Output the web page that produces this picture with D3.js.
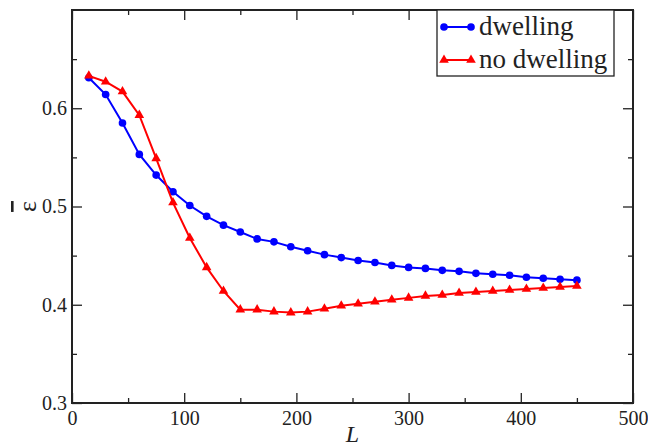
<!DOCTYPE html>
<html>
<head>
<meta charset="utf-8">
<script src="https://cdn.jsdelivr.net/npm/d3@7"></script>
<style>
  html, body { margin: 0; padding: 0; background: #fff; }
  svg { display: block; }
  svg text { font-family: 'Liberation Serif', 'Times New Roman', Tinos, 'DejaVu Serif', serif; }
  .tick text { fill: #222; }
</style>
</head>
<body>
<svg id="chart" width="648" height="448"></svg>
<script>
// System length L
const lengths = [15, 30, 45, 60, 75, 90, 105, 120, 135, 150, 165, 180, 195, 210, 225,
                 240, 255, 270, 285, 300, 315, 330, 345, 360, 375, 390, 405, 420, 435, 450];
// Mean efficiency with dwelling
const dwelling = [0.631, 0.614, 0.585, 0.553, 0.532, 0.515, 0.501, 0.490, 0.481, 0.474,
                  0.467, 0.464, 0.459, 0.455, 0.451, 0.448, 0.445, 0.443, 0.440, 0.438,
                  0.437, 0.435, 0.434, 0.432, 0.431, 0.430, 0.428, 0.427, 0.426, 0.425];
// Mean efficiency without dwelling
const noDwelling = [0.633, 0.627, 0.617, 0.593, 0.549, 0.504, 0.468, 0.438, 0.414, 0.395,
                    0.395, 0.393, 0.392, 0.393, 0.396, 0.399, 0.401, 0.403, 0.405, 0.407,
                    0.409, 0.410, 0.412, 0.413, 0.414, 0.415, 0.416, 0.417, 0.418, 0.419];
const xTicks = [0, 100, 200, 300, 400, 500];
const xMinor = [50, 150, 250, 350, 450];
const yTicks = [0.3, 0.4, 0.5, 0.6];
const yMinor = [0.35, 0.45, 0.55, 0.65];
const seriesNames = ["dwelling", "no dwelling"];
const seriesColors = ["#0000ff", "#ff0000"];

const svg = d3.select("#chart");
const plotLeft = 72, plotRight = 633, plotTop = 10, plotBottom = 403;

const x = d3.scaleLinear().domain([0, 500]).range([plotLeft, plotRight]);
const y = d3.scaleLinear().domain([0.3, 0.7]).range([plotBottom, plotTop]);

const axisColor = "#222";

function styleAxis(g) {
  g.select(".domain").remove();
  g.selectAll(".tick line").attr("stroke", axisColor).attr("stroke-width", 1.3);
  g.attr("font-family", null);
}

// Bottom axis: major ticks with labels, minor ticks without
svg.append("g").attr("transform", `translate(0,${plotBottom})`)
  .call(d3.axisBottom(x).tickValues(xTicks).tickSizeInner(-10).tickSizeOuter(0).tickPadding(7)
        .tickFormat(d3.format("d")))
  .call(styleAxis)
  .call(g => g.selectAll(".tick text").attr("font-size", 20).attr("y", 4).attr("dy", "0.9em"));
svg.append("g").attr("transform", `translate(0,${plotBottom})`)
  .call(d3.axisBottom(x).tickValues(xMinor).tickSizeInner(-5).tickSizeOuter(0).tickFormat(""))
  .call(styleAxis);
// Top axis ticks
svg.append("g").attr("transform", `translate(0,${plotTop})`)
  .call(d3.axisTop(x).tickValues(xTicks).tickSizeInner(-10).tickSizeOuter(0).tickFormat(""))
  .call(styleAxis);
svg.append("g").attr("transform", `translate(0,${plotTop})`)
  .call(d3.axisTop(x).tickValues(xMinor).tickSizeInner(-5).tickSizeOuter(0).tickFormat(""))
  .call(styleAxis);

// Left axis
svg.append("g").attr("transform", `translate(${plotLeft},0)`)
  .call(d3.axisLeft(y).tickValues(yTicks).tickSizeInner(-10).tickSizeOuter(0)
        .tickFormat(d3.format(".1f")))
  .call(styleAxis)
  .call(g => g.selectAll(".tick text").attr("font-size", 20).attr("x", -5));
svg.append("g").attr("transform", `translate(${plotLeft},0)`)
  .call(d3.axisLeft(y).tickValues(yMinor).tickSizeInner(-5).tickSizeOuter(0).tickFormat(""))
  .call(styleAxis);
// Right axis ticks
svg.append("g").attr("transform", `translate(${plotRight},0)`)
  .call(d3.axisRight(y).tickValues(yTicks).tickSizeInner(-10).tickSizeOuter(0).tickFormat(""))
  .call(styleAxis);
svg.append("g").attr("transform", `translate(${plotRight},0)`)
  .call(d3.axisRight(y).tickValues(yMinor).tickSizeInner(-5).tickSizeOuter(0).tickFormat(""))
  .call(styleAxis);

// Plot frame
svg.append("rect")
  .attr("x", plotLeft).attr("y", plotTop)
  .attr("width", plotRight - plotLeft).attr("height", plotBottom - plotTop)
  .attr("fill", "none").attr("stroke", axisColor).attr("stroke-width", 2);

// Series
const series = [dwelling, noDwelling];
const symbols = [d3.symbolCircle, d3.symbolTriangle];
const symbolSizes = [46, 40];
const line = d3.line().x((d, i) => x(lengths[i])).y(d => y(d));

series.forEach((vals, s) => {
  svg.append("path").datum(vals)
    .attr("d", line)
    .attr("fill", "none")
    .attr("stroke", seriesColors[s])
    .attr("stroke-width", 2);
  svg.append("g").selectAll("path").data(vals).join("path")
    .attr("transform", (d, i) => `translate(${x(lengths[i])},${y(d)})`)
    .attr("d", d3.symbol().type(symbols[s]).size(symbolSizes[s]))
    .attr("fill", seriesColors[s]);
});

// Legend
const legend = svg.append("g");
legend.append("rect")
  .attr("x", 437).attr("y", plotTop).attr("width", 177).attr("height", 66)
  .attr("fill", "#fff").attr("stroke", axisColor).attr("stroke-width", 1.3);
const legendY = [27, 60];
seriesNames.forEach((name, s) => {
  const ly = legendY[s];
  legend.append("line")
    .attr("x1", 444).attr("x2", 471).attr("y1", ly).attr("y2", ly)
    .attr("stroke", seriesColors[s]).attr("stroke-width", 2);
  [444, 471].forEach(lx => {
    legend.append("path")
      .attr("transform", `translate(${lx},${ly})`)
      .attr("d", d3.symbol().type(symbols[s]).size(symbolSizes[s]))
      .attr("fill", seriesColors[s]);
  });
  legend.append("text")
    .attr("x", 479).attr("y", ly + 8)
    .attr("font-size", 27).attr("fill", "#222")
    .text(name);
});

// Axis titles
svg.append("text")
  .attr("x", (plotLeft + plotRight) / 2).attr("y", 442)
  .attr("text-anchor", "middle")
  .attr("font-size", 24).attr("font-style", "italic")
  .attr("fill", "#222")
  .text("L");

svg.append("text")
  .attr("transform", `translate(36,${y(0.5)}) rotate(-90)`)
  .attr("text-anchor", "middle")
  .attr("font-size", 26)
  .attr("fill", "#222")
  .style("text-decoration", "overline")
  .text("ε");
</script>
</body>
</html>
